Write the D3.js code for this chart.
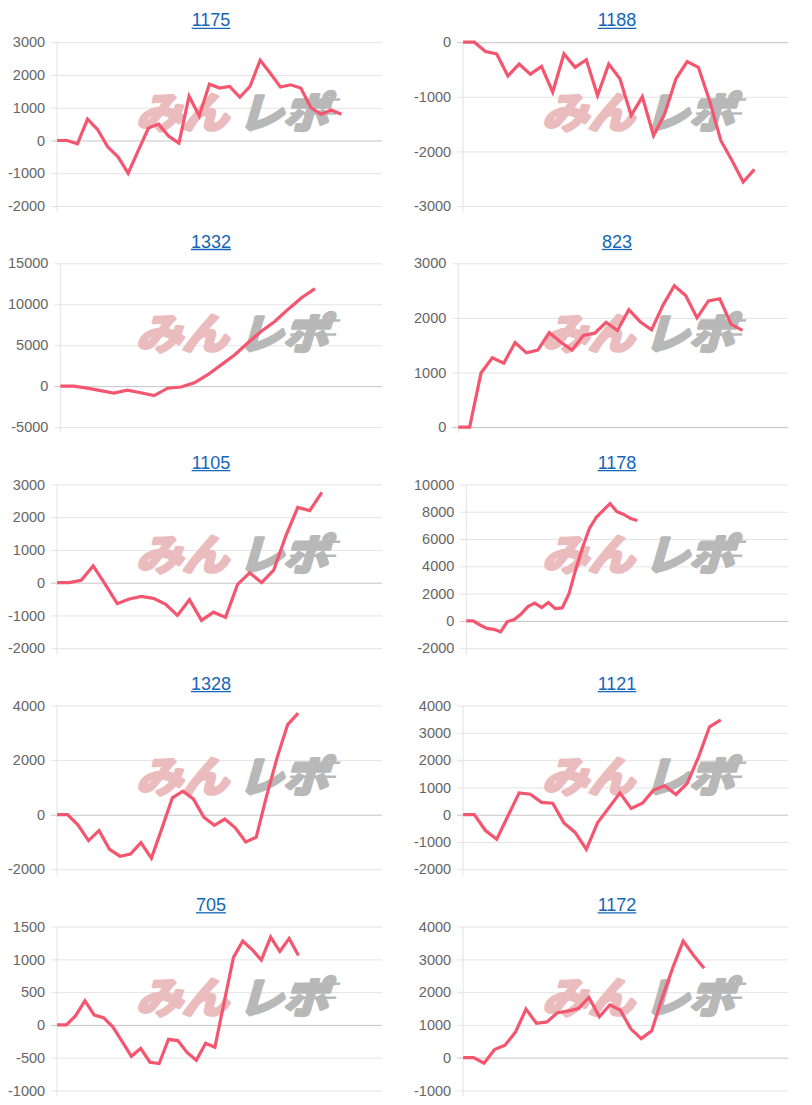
<!DOCTYPE html>
<html>
<head>
<meta charset="utf-8">
<script src="https://cdn.jsdelivr.net/npm/d3@7"></script>
<style>
  html, body { margin: 0; padding: 0; background: #ffffff; }
  svg { display: block; }
</style>
</head>
<body>
<script>
// ---- Data ----
const titles = ["1175", "1188", "1332", "823", "1105", "1178", "1328", "1121", "705", "1172"];

const values1175 = [0, 0, -100, 650, 330, -200, -500, -1000, -300, 380, 500, 130, -80, 1350, 750, 1720, 1600, 1650, 1320, 1650, 2450, 2050, 1630, 1700, 1600, 1000, 800, 930, 800];
const values1188 = [0, 0, -170, -215, -620, -400, -585, -445, -915, -215, -460, -320, -975, -400, -670, -1340, -1000, -1710, -1310, -670, -355, -460, -1070, -1800, -2165, -2560, -2330];
const values1332 = [0, 0, -250, -550, -850, -500, -800, -1150, -250, -100, 400, 1400, 2600, 3800, 5300, 6700, 7900, 9400, 10800, 11900];
const values823  = [0, 0, 990, 1270, 1170, 1550, 1360, 1410, 1730, 1560, 1410, 1680, 1720, 1920, 1770, 2150, 1930, 1780, 2230, 2590, 2410, 2000, 2310, 2350, 1880, 1770];
const values1105 = [0, 0, 70, 510, -50, -640, -500, -420, -480, -650, -1000, -520, -1150, -900, -1060, -50, 300, 0, 380, 1420, 2300, 2200, 2760];
const values1178 = [0, 0, -300, -550, -620, -800, -50, 100, 500, 1050, 1300, 980, 1350, 900, 950, 2000, 3800, 5400, 6800, 7600, 8100, 8600, 8000, 7800, 7500, 7350];
const values1328 = [0, 0, -380, -950, -580, -1270, -1520, -1440, -1020, -1590, -500, 620, 860, 580, -90, -390, -160, -480, -1000, -820, 700, 2100, 3300, 3720];
const values1121 = [0, 0, -580, -900, -50, 800, 750, 450, 420, -300, -650, -1270, -300, 250, 800, 230, 420, 900, 1060, 740, 1150, 2100, 3220, 3470];
const values705  = [0, 0, 140, 370, 150, 110, -30, -250, -480, -360, -570, -590, -220, -240, -420, -540, -280, -340, 350, 1030, 1280, 1150, 990, 1340, 1120, 1320, 1060];
const values1172 = [0, 0, -170, 250, 380, 780, 1480, 1050, 1090, 1370, 1420, 1500, 1840, 1250, 1610, 1450, 880, 580, 820, 1830, 2740, 3560, 3120, 2730];

const ticks1175 = [-2000, -1000, 0, 1000, 2000, 3000];
const ticks1188 = [-3000, -2000, -1000, 0];
const ticks1332 = [-5000, 0, 5000, 10000, 15000];
const ticks823  = [0, 1000, 2000, 3000];
const ticks1105 = [-2000, -1000, 0, 1000, 2000, 3000];
const ticks1178 = [-2000, 0, 2000, 4000, 6000, 8000, 10000];
const ticks1328 = [-2000, 0, 2000, 4000];
const ticks1121 = [-2000, -1000, 0, 1000, 2000, 3000, 4000];
const ticks705  = [-1000, -500, 0, 500, 1000, 1500];
const ticks1172 = [-1000, 0, 1000, 2000, 3000, 4000];

// number of (unlabelled) category slots on each x axis
const slotCounts = [33, 30, 25, 30, 28, 48, 32, 30, 36, 32];

const seriesList = [values1175, values1188, values1332, values823, values1105, values1178, values1328, values1121, values705, values1172];
const tickList = [ticks1175, ticks1188, ticks1332, ticks823, ticks1105, ticks1178, ticks1328, ticks1121, ticks705, ticks1172];

// ---- Layout / style ----
const W = 812, H = 1105;
const FONT = "'Liberation Sans', Arial, Helvetica, sans-serif";
const lineColor = "#f4566f";
const titleColor = "#1565b7";

const svg = d3.select("body").append("svg")
  .attr("width", W).attr("height", H)
  .attr("viewBox", `0 0 ${W} ${H}`);
svg.append("rect").attr("width", W).attr("height", H).attr("fill", "#fff");

// measure text widths
const measurer = svg.append("text")
  .attr("font-family", FONT).attr("font-size", 14.5)
  .attr("visibility", "hidden");
function textW(s) { measurer.text(s); return measurer.node().getComputedTextLength(); }

const plotH = 163.8;

titles.forEach((title, i) => {
  const col = i % 2, row = Math.floor(i / 2);
  const panelX = col * 406;
  const plotTop = 42.2 + row * 221.1;
  const plotBottom = plotTop + plotH;
  const ticks = tickList[i];
  const vals = seriesList[i];

  const maxW = d3.max(ticks, t => textW(String(t)));
  const plotLeft = panelX + 8 + maxW + 12;
  const plotRight = panelX + 382;

  const g = svg.append("g");

  const y = d3.scaleLinear()
    .domain([ticks[0], ticks[ticks.length - 1]])
    .range([plotBottom, plotTop]);
  const x = d3.scalePoint()
    .domain(d3.range(slotCounts[i]))
    .range([plotLeft, plotRight]);

  // y axis with gridlines
  const axis = g.append("g")
    .attr("transform", `translate(${plotLeft},0)`)
    .call(d3.axisLeft(y)
      .tickValues(ticks)
      .tickSize(-(plotRight - plotLeft))
      .tickPadding(12)
      .tickFormat(d => String(d)));
  axis.select(".domain").remove();
  axis.selectAll(".tick line")
    .attr("x1", -6)
    .attr("stroke", d => d === 0 ? "#c4c4c4" : "#e4e4e4")
    .attr("stroke-width", 1);
  axis.selectAll(".tick text")
    .attr("font-family", FONT)
    .attr("font-size", 14.5)
    .attr("fill", "#666");

  // left axis line
  g.append("line")
    .attr("x1", plotLeft).attr("x2", plotLeft)
    .attr("y1", plotTop).attr("y2", plotBottom + 6)
    .attr("stroke", "#e2e2e2").attr("stroke-width", 1);

  // watermark
  const wm = g.append("g")
    .attr("transform", `translate(${panelX + 136},${plotTop + 86}) skewX(-16)`);
  wm.append("text")
    .attr("x", 0).attr("y", 0)
    .attr("font-family", "'Noto Sans CJK JP', sans-serif")
    .attr("font-weight", 700)
    .attr("font-size", 42)
    .attr("textLength", 92).attr("lengthAdjust", "spacingAndGlyphs")
    .attr("fill", "#ebbcbe")
    .attr("stroke", "#ebbcbe").attr("stroke-width", 3.5)
    .attr("stroke-linejoin", "round")
    .text("みん");
  wm.append("text")
    .attr("x", 102).attr("y", 0)
    .attr("font-family", "'Noto Sans CJK JP', sans-serif")
    .attr("font-weight", 700)
    .attr("font-size", 42)
    .attr("textLength", 90).attr("lengthAdjust", "spacingAndGlyphs")
    .attr("fill", "#b8b8b8")
    .attr("stroke", "#b8b8b8").attr("stroke-width", 3.5)
    .attr("stroke-linejoin", "round")
    .text("レポ");
  [-30, -16].forEach(dy => {
    wm.append("rect")
      .attr("x", 150).attr("y", dy)
      .attr("width", 46).attr("height", 2.5)
      .attr("fill", "#b8b8b8");
  });

  // line
  const line = d3.line()
    .x((d, k) => x(k))
    .y(d => y(d));
  g.append("path")
    .datum(vals)
    .attr("d", line)
    .attr("fill", "none")
    .attr("stroke", lineColor)
    .attr("stroke-width", 3.2)
    .attr("stroke-linejoin", "miter");

  // title
  const tx = panelX + 211, ty = plotTop - 15.8;
  const t = g.append("text")
    .attr("x", tx).attr("y", ty)
    .attr("text-anchor", "middle")
    .attr("font-family", FONT)
    .attr("font-size", 18)
    .attr("fill", titleColor)
    .text(title);
  const tw = t.node().getComputedTextLength();
  g.append("line")
    .attr("x1", tx - tw / 2).attr("x2", tx + tw / 2)
    .attr("y1", ty + 2).attr("y2", ty + 2)
    .attr("stroke", titleColor).attr("stroke-width", 1.3);
});
measurer.remove();
</script>
</body>
</html>
